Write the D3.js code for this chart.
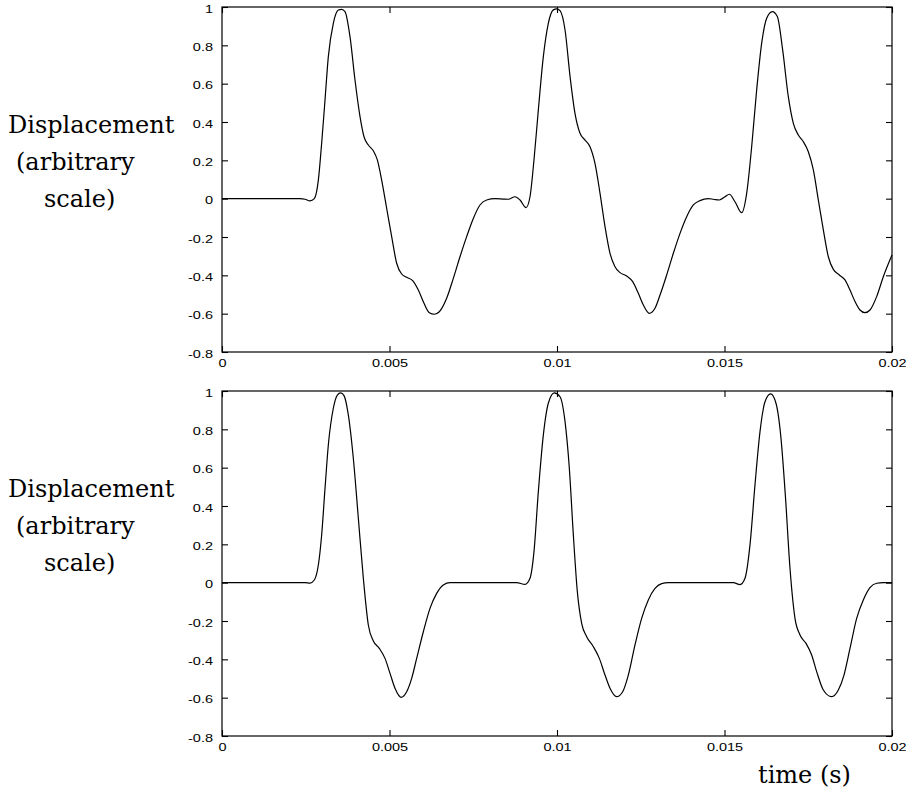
<!DOCTYPE html>
<html>
<head>
<meta charset="utf-8">
<script src="https://cdn.jsdelivr.net/npm/d3@7"></script>
<style>
  html, body { margin: 0; padding: 0; background: #fff; }
  svg { display: block; }
</style>
</head>
<body>
<div id="chart"></div>
<script>
// ---------- data ----------
const xTicks = [0, 0.005, 0.01, 0.015, 0.02];
const xTickLabels = ["0", "0.005", "0.01", "0.015", "0.02"];
const yTicks = [-0.8, -0.6, -0.4, -0.2, 0, 0.2, 0.4, 0.6, 0.8, 1];
const yTickLabels = ["-0.8", "-0.6", "-0.4", "-0.2", "0", "0.2", "0.4", "0.6", "0.8", "1"];

const yTitleLines = ["Displacement", "(arbitrary", "scale)"];
const xTitle = "time (s)";

// top panel: time (s), displacement
const timeTop = [
  0, 0.002328, 0.002478, 0.002627, 0.002756, 0.002876, 0.002975, 0.003075, 0.003174, 0.003323,
  0.003473, 0.003572, 0.003672, 0.003821, 0.00397, 0.00412, 0.004239, 0.004368, 0.004517, 0.004637,
  0.004766, 0.004915, 0.005065, 0.005214, 0.005363, 0.005513, 0.005692, 0.00586, 0.00603, 0.006189,
  0.006338, 0.006487, 0.006706, 0.006905, 0.007104, 0.007303, 0.007502, 0.007701, 0.007901, 0.008149,
  0.008398, 0.008547, 0.008746, 0.008896, 0.009075, 0.009194, 0.009313, 0.009443, 0.009592, 0.009741,
  0.00989, 0.00999, 0.01009, 0.01024, 0.01039, 0.010537, 0.010687, 0.010836, 0.010985, 0.011134,
  0.011284, 0.011433, 0.011582, 0.011731, 0.011881, 0.01208, 0.012259, 0.012428, 0.012577, 0.012756,
  0.012925, 0.013075, 0.013274, 0.013473, 0.013672, 0.013871, 0.01407, 0.014269, 0.014517, 0.014667,
  0.014846, 0.015015, 0.015144, 0.015313, 0.015513, 0.015662, 0.015811, 0.01596, 0.016109, 0.016259,
  0.016428, 0.016577, 0.016736, 0.016905, 0.017055, 0.017204, 0.017353, 0.017502, 0.017652, 0.017801,
  0.01795, 0.018099, 0.018249, 0.018428, 0.018597, 0.018746, 0.018896, 0.019045, 0.019194, 0.019343,
  0.019542, 0.019741, 0.02
];
const dispTop = [
  0, 0, -0.003, -0.012, 0, 0.097, 0.289, 0.515, 0.741, 0.915,
  0.984, 0.988, 0.976, 0.845, 0.619, 0.428, 0.323, 0.28, 0.25, 0.202,
  0.097, -0.05, -0.198, -0.337, -0.393, -0.41, -0.428, -0.477, -0.546, -0.595,
  -0.603, -0.59, -0.52, -0.416, -0.303, -0.198, -0.103, -0.033, -0.007, 0,
  -0.002, -0.003, 0.01, -0.007, -0.047, 0.01, 0.202, 0.463, 0.741, 0.915,
  0.985, 0.99, 0.981, 0.88, 0.637, 0.445, 0.341, 0.306, 0.271, 0.184,
  0.028, -0.146, -0.285, -0.355, -0.386, -0.403, -0.433, -0.494, -0.555, -0.598,
  -0.572, -0.503, -0.398, -0.285, -0.181, -0.094, -0.033, -0.01, 0, -0.003,
  -0.007, 0.01, 0.023, -0.016, -0.073, 0.028, 0.271, 0.567, 0.81, 0.941,
  0.976, 0.95, 0.776, 0.532, 0.393, 0.332, 0.297, 0.245, 0.15, -0.007,
  -0.163, -0.303, -0.369, -0.398, -0.424, -0.477, -0.537, -0.581, -0.595, -0.581,
  -0.511, -0.407, -0.294
];

// bottom panel: time (s), displacement
const timeBottom = [
  0, 0.002478, 0.002627, 0.002756, 0.002876, 0.002975, 0.003075, 0.003174, 0.003323, 0.003443,
  0.003542, 0.003642, 0.003771, 0.00392, 0.00407, 0.004219, 0.004368, 0.004517, 0.004697, 0.004866,
  0.005015, 0.005164, 0.005343, 0.005512, 0.005662, 0.005811, 0.00601, 0.006209, 0.006408, 0.006607,
  0.006806, 0.008796, 0.009045, 0.009194, 0.009313, 0.009443, 0.009592, 0.009741, 0.00992, 0.01009,
  0.01024, 0.010368, 0.010488, 0.010607, 0.010736, 0.010886, 0.011085, 0.011264, 0.011433, 0.011582,
  0.011781, 0.01196, 0.012129, 0.012328, 0.012527, 0.012726, 0.012925, 0.013124, 0.013323, 0.015264,
  0.015463, 0.015612, 0.015761, 0.01591, 0.01606, 0.016209, 0.016378, 0.016537, 0.016677, 0.016816,
  0.016955, 0.017104, 0.017254, 0.017433, 0.017602, 0.017751, 0.01795, 0.018199, 0.018398, 0.018567,
  0.018746, 0.018945, 0.019144, 0.019343, 0.019542, 0.019741, 0.02
];
const dispBottom = [
  0, 0, -0.002, 0.014, 0.092, 0.249, 0.492, 0.718, 0.91, 0.979,
  0.99, 0.976, 0.875, 0.649, 0.336, 0.023, -0.221, -0.304, -0.343, -0.395,
  -0.473, -0.551, -0.598, -0.569, -0.499, -0.395, -0.256, -0.134, -0.056, -0.012,
  0, 0, -0.009, 0.023, 0.162, 0.475, 0.77, 0.936, 0.99, 0.97,
  0.84, 0.597, 0.249, -0.047, -0.212, -0.282, -0.334, -0.395, -0.482, -0.551,
  -0.595, -0.569, -0.482, -0.325, -0.186, -0.09, -0.03, -0.005, 0, 0,
  -0.01, 0.023, 0.197, 0.51, 0.788, 0.944, 0.985, 0.936, 0.77, 0.457,
  0.075, -0.186, -0.273, -0.317, -0.377, -0.464, -0.56, -0.595, -0.56, -0.482,
  -0.343, -0.186, -0.09, -0.026, -0.003, 0, 0
];

// ---------- layout ----------
const W = 906, H = 796;
const plotLeft = 222, plotRight = 892;
const panels = [
  { top: 7,   bottom: 352, t: timeTop,    d: dispTop,    titleBase: 133 },
  { top: 391, bottom: 736, t: timeBottom, d: dispBottom, titleBase: 497 }
];
const titleX = [8, 16, 44];
const titleStep = 37;
const labelScale = 1.45;
const tickFont = "'Liberation Sans', Arial, Helvetica, sans-serif";
const titleFont = "'DejaVu Serif', serif";

const svg = d3.select("#chart").append("svg")
  .attr("width", W).attr("height", H)
  .attr("viewBox", `0 0 ${W} ${H}`);

svg.append("rect").attr("width", W).attr("height", H).attr("fill", "#fff");

const x = d3.scaleLinear().domain([0, 0.02]).range([plotLeft, plotRight]);

panels.forEach((p) => {
  const y = d3.scaleLinear().domain([-0.8, 1]).range([p.bottom, p.top]);
  const g = svg.append("g");

  // frame
  g.append("rect")
    .attr("x", plotLeft).attr("y", p.top)
    .attr("width", plotRight - plotLeft).attr("height", p.bottom - p.top)
    .attr("fill", "none").attr("stroke", "#000").attr("stroke-width", 1.2);

  const styleAxis = (sel) => {
    sel.select(".domain").remove();
    sel.selectAll(".tick line").attr("stroke", "#000").attr("stroke-width", 1.1);
    sel.selectAll(".tick text")
      .attr("fill", "#000")
      .style("font-family", tickFont)
      .style("font-size", "10px");
  };

  // left axis with labels
  const left = g.append("g").attr("transform", `translate(${plotLeft},0)`)
    .call(d3.axisLeft(y).tickValues(yTicks).tickSize(-6).tickPadding(0)
      .tickFormat((v, i) => yTickLabels[i]));
  styleAxis(left);
  left.selectAll(".tick text")
    .attr("x", null).attr("dy", "0.52em")
    .attr("transform", `translate(-9,0) scale(${labelScale},1)`);

  // right axis (ticks only)
  const right = g.append("g").attr("transform", `translate(${plotRight},0)`)
    .call(d3.axisRight(y).tickValues(yTicks).tickSize(-6).tickFormat(""));
  styleAxis(right);

  // bottom axis with labels
  const bottom = g.append("g").attr("transform", `translate(0,${p.bottom})`)
    .call(d3.axisBottom(x).tickValues(xTicks).tickSize(-6).tickPadding(0)
      .tickFormat((v, i) => xTickLabels[i]));
  styleAxis(bottom);
  bottom.selectAll(".tick text")
    .attr("y", null).attr("dy", "0.71em")
    .attr("transform", `translate(0,8) scale(${labelScale},1)`);

  // top axis (ticks only)
  const topAx = g.append("g").attr("transform", `translate(0,${p.top})`)
    .call(d3.axisTop(x).tickValues(xTicks).tickSize(-6).tickFormat(""));
  styleAxis(topAx);

  // curve
  const pts = p.t.map((tv, i) => [tv, p.d[i]]);
  g.append("path")
    .datum(pts)
    .attr("fill", "none")
    .attr("stroke", "#000")
    .attr("stroke-width", 1.2)
    .attr("d", d3.line().x(d => x(d[0])).y(d => y(d[1])).curve(d3.curveMonotoneX));

  // y title
  const tt = g.append("text")
    .style("font-family", titleFont)
    .style("font-size", "24px")
    .attr("fill", "#000");
  yTitleLines.forEach((line, i) => {
    tt.append("tspan")
      .attr("x", titleX[i])
      .attr("y", p.titleBase + i * titleStep)
      .text(line);
  });
});

// x title
svg.append("text")
  .attr("x", 758).attr("y", 783)
  .style("font-family", titleFont)
  .style("font-size", "24px")
  .attr("fill", "#000")
  .text(xTitle);
</script>
</body>
</html>
